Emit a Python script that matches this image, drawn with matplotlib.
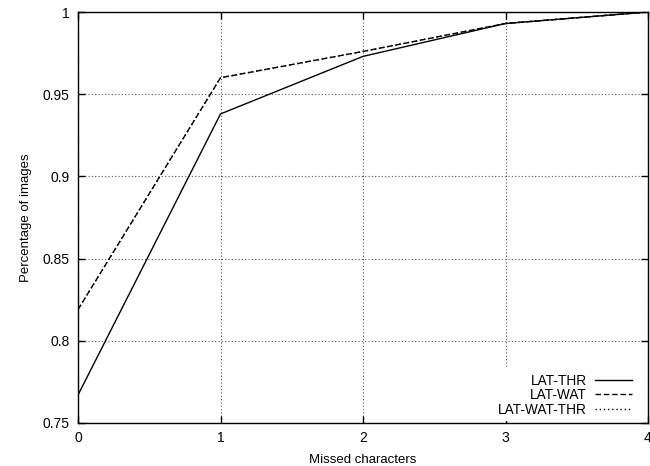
import matplotlib.pyplot as plt

plt.rcParams['font.family'] = ['Liberation Sans', 'DejaVu Sans']

missed = [0, 1, 2, 3, 4]
lat_thr = [0.767, 0.938, 0.973, 0.993, 1.0]
lat_wat = [0.819, 0.960, 0.976, 0.993, 1.0]
lat_wat_thr = [0.819, 0.960, 0.976, 0.993, 1.0]

fig = plt.figure(figsize=(6.5, 4.66), dpi=100)
ax = fig.add_axes([78 / 650, 43 / 466, 570 / 650, 411 / 466])

ax.plot(missed, lat_wat_thr, color='black', lw=1.0, ls=(0, (1, 2)), label='LAT-WAT-THR')
ax.plot(missed, lat_wat, color='black', lw=1.0, ls=(0, (4, 2)), label='LAT-WAT')
ax.plot(missed, lat_thr, color='black', lw=1.0, ls='-', label='LAT-THR')

ax.set_xlim(0, 4)
ax.set_ylim(0.75, 1.0)
ax.set_xticks(missed)
ax.set_yticks([0.75, 0.8, 0.85, 0.9, 0.95, 1.0])
ax.set_yticklabels(['0.75', '0.8', '0.85', '0.9', '0.95', '1'])
ax.tick_params(direction='in', length=5, width=1, top=True, right=True,
               labelsize=10, pad=6)
ax.grid(True, color='#555555', ls=(0, (1, 2)), lw=0.8)
for sp in ax.spines.values():
    sp.set_linewidth(1.0)

ax.set_xlabel('Missed characters', fontsize=9.5, labelpad=6)
ax.set_ylabel('Percentage of images', fontsize=9.5, labelpad=8)

# gnuplot-style key: labels right-aligned, samples on the right
handles, labels = ax.get_legend_handles_labels()
leg = ax.legend(handles[::-1], labels[::-1], loc='lower right',
                bbox_to_anchor=(0.979, 0.005), markerfirst=False,
                frameon=True, fancybox=False, edgecolor='none', framealpha=1,
                fontsize=9.8, handlelength=2.7, labelspacing=0.05, borderpad=0.3,
                handletextpad=0.6, borderaxespad=0)

fig.savefig('out.png', dpi=100)
